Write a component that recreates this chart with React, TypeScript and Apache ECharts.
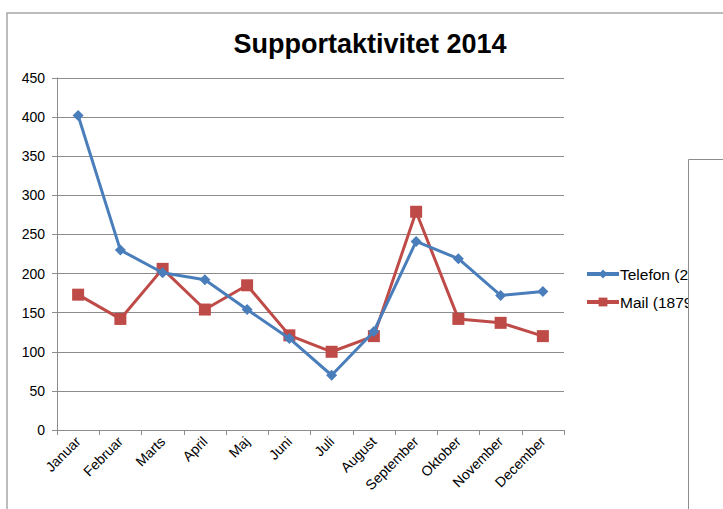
import React, { useEffect, useRef } from "react";
import * as echarts from "echarts";

const months = ["Januar", "Februar", "Marts", "April", "Maj", "Juni", "Juli", "August", "September", "Oktober", "November", "December"];
const telefon = [402, 230, 201, 192, 154, 117, 70, 126, 241, 219, 172, 177];
const mail = [173, 142, 206, 154, 185, 121, 100, 120, 279, 142, 137, 120];
const yTicks = { min: 0, max: 450, interval: 50 };

const sum = (a: number[]) => a.reduce((s, v) => s + v, 0);

export default function App() {
  const ref = useRef<HTMLDivElement>(null);
  useEffect(() => {
    const chart = echarts.init(ref.current!, null, { renderer: "svg" });
    const font = "Liberation Sans, Arial, sans-serif";
    chart.setOption({
      animation: false,
      backgroundColor: "#fff",
      title: {
        text: "Supportaktivitet 2014",
        left: 365,
        textAlign: "center",
        top: 25,
        textStyle: { fontFamily: font, fontSize: 27, fontWeight: "bold", color: "#000" },
      },
      legend: {
        orient: "vertical",
        left: 585,
        top: 266,
        padding: 0,
        itemWidth: 32,
        itemHeight: 11,
        itemGap: 12,
        textStyle: { fontFamily: font, fontSize: 15.5, color: "#000", padding: [0, 0, 0, -4] },
        lineStyle: { width: 4 },
        data: ["Telefon (" + sum(telefon) + ")", "Mail (" + sum(mail) + ")"],
      },
      grid: { left: 57, right: 159, top: 78, bottom: 79, containLabel: false },
      xAxis: {
        type: "category",
        data: months,
        boundaryGap: true,
        axisLine: { lineStyle: { color: "#8c8c8c", width: 1 } },
        axisTick: { show: true, length: 5, lineStyle: { color: "#8c8c8c" }, interval: 0 },
        axisLabel: { interval: 0, rotate: 45, fontFamily: font, fontSize: 14, color: "#000", margin: 9 },
      },
      yAxis: {
        type: "value",
        min: yTicks.min,
        max: yTicks.max,
        interval: yTicks.interval,
        axisLine: { show: true, lineStyle: { color: "#8c8c8c", width: 1 } },
        axisTick: { show: true, length: 5, lineStyle: { color: "#8c8c8c" } },
        axisLabel: { fontFamily: font, fontSize: 14, color: "#000", margin: 12 },
        splitLine: { lineStyle: { color: "#8c8c8c", width: 1 } },
      },
      series: [
        {
          name: "Telefon (" + sum(telefon) + ")",
          type: "line",
          data: telefon,
          symbol: "diamond",
          symbolSize: 11,
          lineStyle: { color: "#4A7EBB", width: 3 },
          itemStyle: { color: "#4A7EBB" },
          z: 3,
        },
        {
          name: "Mail (" + sum(mail) + ")",
          type: "line",
          data: mail,
          symbol: "rect",
          symbolSize: 12,
          lineStyle: { color: "#BE4B48", width: 3 },
          itemStyle: { color: "#BE4B48" },
          z: 2,
        },
      ],
      graphic: [
        {
          type: "rect",
          shape: { x: 7, y: 13, width: 900, height: 700 },
          style: { fill: "none", stroke: "#a6a6a6", lineWidth: 1.5 },
          silent: true,
          z: 100,
        },
        {
          type: "rect",
          shape: { x: 688.5, y: 159.5, width: 200, height: 500 },
          style: { fill: "#fff", stroke: "#8c8c8c", lineWidth: 1 },
          silent: true,
          z: 100,
        },
      ],
    });
    return () => chart.dispose();
  }, []);
  return <div ref={ref} style={{ position: "absolute", left: 0, top: 0, width: 723, height: 509 }} />;
}
